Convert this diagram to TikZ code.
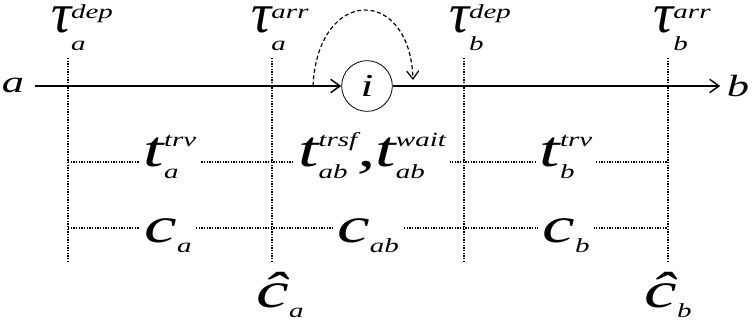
\documentclass[tikz,border=0pt]{standalone}
\usepackage{fontspec}
\setmainfont{Liberation Serif}
\newfontfamily\wideit[FakeStretch=1.45]{Liberation Serif Italic}
\newfontfamily\greekit{Liberation Serif Italic}
\usetikzlibrary{arrows.meta,positioning}
\newcommand{\idxfont}{\fontsize{15}{16}\selectfont}
\newcommand{\tauglyph}{{\greekit\fontsize{42}{44}\selectfont τ}}
\newcommand{\supsub}[5]{#1{\idxfont\sbox0{#2}\sbox2{#3}\rlap{\raisebox{#4}{\usebox0}}\rlap{\raisebox{-#5}{\usebox2}}\kern\ifdim\wd0>\wd2 \wd0\else\wd2\fi}}
\tikzset{
  guide/.style={line width=0.9pt, dash pattern=on 0.9pt off 1.1pt},
  flow/.style={line width=1.1pt, -{Straight Barb[length=7pt,width=10pt]}},
  hop/.style={line width=0.9pt, dash pattern=on 3pt off 2pt, -{Straight Barb[length=6pt,width=9pt]}},
  endpt/.style={font=\wideit\fontsize{23}{25}\selectfont, inner sep=0pt, anchor=base},
  timelbl/.style={font=\wideit\fontsize{28}{30}\selectfont, inner sep=0pt, anchor=base},
  durlbl/.style={font=\wideit\fontsize{38}{40}\selectfont, inner sep=3pt, fill=white, anchor=base},
  transfer/.style={circle, draw, line width=0.6pt, minimum size=38pt, inner sep=0pt,
    font=\wideit\fontsize{24}{26}\selectfont}
}
\begin{document}
\begin{tikzpicture}[x=0.75pt,y=-0.75pt]
\useasboundingbox (0,0) rectangle (752,328);

\node[endpt, outer sep=8pt] (a) at (13,92) {a};
\node[endpt, outer sep=5pt] (b) at (738,96) {b};
\node[transfer] (i) at (367,86) {i};

\foreach \x/\n in {68/depa,272/arra,464/depb,668/arrb}{
  \coordinate (\n-top) at (\x,58);
  \coordinate (\n-bot) at (\x,262);
  \draw[guide] (\n-top) -- (\n-bot);
}

\coordinate (trv-l) at (68,162);
\coordinate (trv-r) at (668,162);
\coordinate (cost-l) at (68,228);
\coordinate (cost-r) at (668,228);
\draw[guide] (trv-l) -- (trv-r);
\draw[guide] (cost-l) -- (cost-r);

\draw[flow] (a.east |- i.west) -- (i.west);
\draw[flow] (i.east) -- (b.west |- i.east);

\coordinate (hopfrom) at (313,86);
\coordinate (hopto) at (413,80);
\draw[hop] (hopfrom) .. controls (318,-14) and (410,-14) .. (hopto);

\node[timelbl] (tdepa) at (82,33) {\supsub{\tauglyph}{dep}{a}{11pt}{13pt}};
\node[timelbl] (tarra) at (280,33) {\supsub{\tauglyph}{arr}{a}{11pt}{13pt}};
\node[timelbl] (tdepb) at (480,33) {\supsub{\tauglyph}{dep}{b}{11pt}{13pt}};
\node[timelbl] (tarrb) at (682,33) {\supsub{\tauglyph}{arr}{b}{11pt}{13pt}};

\node[durlbl] (trva) at (170,166) {\supsub{t}{trv}{a}{15pt}{9pt}};
\node[durlbl] (trsf) at (372,166) {\supsub{t}{trsf}{ab}{15pt}{9pt},\supsub{t}{wait}{ab}{15pt}{9pt}};
\node[durlbl] (trvb) at (566,166) {\supsub{t}{trv}{b}{15pt}{9pt}};

\node[durlbl] (ca) at (168,242) {\supsub{c}{}{a}{0pt}{7.5pt}};
\node[durlbl] (cab) at (368,242) {\supsub{c}{}{ab}{0pt}{7.5pt}};
\node[durlbl] (cb) at (566,242) {\supsub{c}{}{b}{0pt}{7.5pt}};

\node[durlbl, fill=none] (hca) at (280,307) {\supsub{ĉ}{}{a}{0pt}{7.5pt}};
\node[durlbl, fill=none] (hcb) at (668,307) {\supsub{ĉ}{}{b}{0pt}{7.5pt}};
\end{tikzpicture}
\end{document}
